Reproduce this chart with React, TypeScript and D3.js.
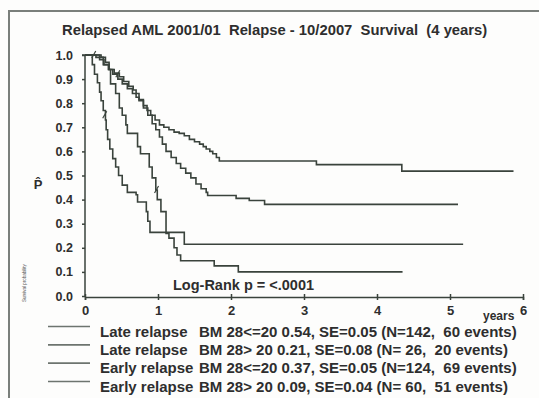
import React, { useEffect, useRef } from 'react';
import * as d3 from 'd3';

// step points: [years, survival probability]
const lateLow: [number, number][] = [
  [0, 1.0], [0.15, 0.99], [0.25, 0.96], [0.32, 0.94], [0.4, 0.925], [0.47, 0.91], [0.53, 0.89],
  [0.6, 0.87], [0.66, 0.855], [0.7, 0.84], [0.74, 0.815], [0.8, 0.79], [0.85, 0.77], [0.9, 0.75],
  [0.96, 0.73], [1.02, 0.71], [1.08, 0.7], [1.15, 0.69], [1.22, 0.68], [1.29, 0.675], [1.36, 0.665],
  [1.43, 0.65], [1.5, 0.64], [1.57, 0.63], [1.62, 0.62], [1.66, 0.61], [1.71, 0.6], [1.75, 0.59],
  [1.8, 0.575], [1.84, 0.56], [3.17, 0.545], [4.34, 0.518], [5.87, 0.518],
];
const earlyLow: [number, number][] = [
  [0, 1.0], [0.22, 0.99], [0.28, 0.97], [0.33, 0.94], [0.38, 0.92], [0.45, 0.9], [0.51, 0.88],
  [0.58, 0.86], [0.65, 0.84], [0.7, 0.825], [0.74, 0.81], [0.8, 0.78], [0.86, 0.75], [0.92, 0.715],
  [0.97, 0.69], [1.02, 0.66], [1.06, 0.63], [1.11, 0.6], [1.18, 0.575], [1.25, 0.55], [1.31, 0.53],
  [1.38, 0.51], [1.45, 0.49], [1.52, 0.465], [1.59, 0.445], [1.66, 0.43], [1.68, 0.417],
  [2.07, 0.405], [2.25, 0.396], [2.46, 0.38], [5.11, 0.38],
];
const lateHigh: [number, number][] = [
  [0, 1.0], [0.1, 0.96], [0.13, 0.92], [0.17, 0.885], [0.2, 0.846], [0.22, 0.81], [0.25, 0.77],
  [0.28, 0.73], [0.29, 0.69], [0.31, 0.65], [0.34, 0.61], [0.38, 0.57], [0.42, 0.535], [0.46, 0.5],
  [0.51, 0.46], [0.58, 0.43], [0.7, 0.42], [0.72, 0.39], [0.84, 0.35], [0.86, 0.31], [0.89, 0.264],
  [1.36, 0.215], [5.18, 0.215],
];
const earlyHigh: [number, number][] = [
  [0, 1.0], [0.2, 0.98], [0.26, 0.96], [0.33, 0.94], [0.35, 0.88], [0.42, 0.84], [0.47, 0.78],
  [0.51, 0.75], [0.56, 0.71], [0.58, 0.675], [0.72, 0.62], [0.76, 0.59], [0.88, 0.535], [0.92, 0.49],
  [0.97, 0.44], [0.99, 0.4], [1.04, 0.35], [1.11, 0.26], [1.15, 0.24], [1.22, 0.2], [1.26, 0.17],
  [1.31, 0.146], [1.77, 0.125], [2.1, 0.1], [4.35, 0.1],
];
const series = [lateLow, lateHigh, earlyLow, earlyHigh];

// censor marks [years, p]
const censored: [number, number][] = [[0.12, 1.0], [0.27, 0.75], [0.98, 0.44], [0.45, 0.92]];

const xTicks = [0, 1, 2, 3, 4, 5, 6];
const yTicks = [0, 0.1, 0.2, 0.3, 0.4, 0.5, 0.6, 0.7, 0.8, 0.9, 1.0];

const groupLabels = ['Late relapse', 'Late relapse', 'Early relapse', 'Early relapse'];
const statLabels = [
  'BM 28<=20 0.54, SE=0.05 (N=142,  60 events)',
  'BM 28> 20 0.21, SE=0.08 (N= 26,  20 events)',
  'BM 28<=20 0.37, SE=0.05 (N=124,  69 events)',
  'BM 28> 20 0.09, SE=0.04 (N= 60,  51 events)',
];

const title = 'Relapsed AML 2001/01  Relapse - 10/2007  Survival  (4 years)';
const ink = '#3a433c';
const txt = '#2e2e2e';
const font = '"Liberation Sans", Arial, sans-serif';

const App = () => {
  const ref = useRef<SVGSVGElement>(null);

  useEffect(() => {
    const svg = d3.select(ref.current);
    svg.selectAll('*').remove();

    svg.append('rect').attr('width', 539).attr('height', 398).attr('fill', '#fdfdfc');

    // scan frame
    svg.append('path')
      .attr('d', 'M9,398 V11 H539')
      .attr('fill', 'none')
      .attr('stroke', '#7a7f7b')
      .attr('stroke-width', 2);

    const x = d3.scaleLinear().domain([0, 6]).range([85, 523]);
    const y = d3.scaleLinear().domain([0, 1]).range([296, 55]);

    svg.append('text')
      .attr('x', 62).attr('y', 35)
      .attr('font-family', font).attr('font-weight', 'bold').attr('font-size', 14.8)
      .attr('fill', txt).style('white-space', 'pre')
      .text(title);

    // y axis
    const yAxis = svg.append('g')
      .attr('transform', 'translate(85,0)')
      .call(d3.axisLeft(y).tickValues(yTicks).tickFormat(d3.format('.1f')).tickSize(3).tickPadding(9));
    yAxis.selectAll('text')
      .attr('font-family', font).attr('font-weight', 'bold').attr('font-size', 12.5).attr('fill', txt);
    yAxis.select('.domain').attr('d', `M-3,${y(1)}H0V${y(0) + 1}`);

    // x axis
    const xAxis = svg.append('g')
      .attr('transform', `translate(0,${y(0) + 1})`)
      .call(d3.axisBottom(x).tickValues(xTicks).tickFormat(d3.format('d')).tickSize(3).tickPadding(6));
    xAxis.selectAll('text')
      .attr('font-family', font).attr('font-weight', 'bold').attr('font-size', 13).attr('fill', txt);
    xAxis.selectAll('.tick line').attr('y1', -3);

    svg.selectAll('.domain, .tick line').attr('stroke', ink).attr('stroke-width', 1.5);

    // y label P-hat
    svg.append('text')
      .attr('x', 38).attr('y', 189).attr('text-anchor', 'middle')
      .attr('font-family', font).attr('font-weight', 'bold').attr('font-size', 13).attr('fill', txt)
      .text('P\u0302');

    svg.append('text')
      .attr('transform', 'translate(26,302) rotate(-90)')
      .attr('font-family', font).attr('font-size', 4.5).attr('fill', '#555')
      .text('Survival probability');

    const line = d3.line<[number, number]>()
      .x(d => x(d[0]))
      .y(d => y(d[1]))
      .curve(d3.curveStepAfter);

    svg.selectAll('.km')
      .data(series)
      .enter().append('path')
      .attr('class', 'km')
      .attr('d', d => line(d))
      .attr('fill', 'none')
      .attr('stroke', ink)
      .attr('stroke-width', 1.6);

    svg.selectAll('.cens')
      .data(censored)
      .enter().append('line')
      .attr('class', 'cens')
      .attr('x1', d => x(d[0]) - 2).attr('x2', d => x(d[0]) + 2)
      .attr('y1', d => y(d[1]) + 3).attr('y2', d => y(d[1]) - 4)
      .attr('stroke', ink).attr('stroke-width', 1.2);

    svg.append('text')
      .attr('x', 173).attr('y', 290)
      .attr('font-family', font).attr('font-weight', 'bold').attr('font-size', 14.5).attr('fill', txt)
      .text('Log-Rank p = <.0001');

    // legend
    const rowY = d3.scaleLinear().domain([0, 3]).range([336.5, 391.5]);
    const leg = svg.selectAll('.leg')
      .data(statLabels)
      .enter().append('g')
      .attr('class', 'leg')
      .attr('transform', (d, i) => `translate(0,${rowY(i)})`);
    leg.append('line')
      .attr('x1', 48).attr('x2', 90).attr('y1', -10).attr('y2', -10)
      .attr('stroke', '#6d746f').attr('stroke-width', 1.6);
    leg.append('text')
      .attr('x', 100)
      .attr('font-family', font).attr('font-weight', 'bold').attr('font-size', 15).attr('fill', txt)
      .text((d, i) => groupLabels[i]);
    leg.append('text')
      .attr('x', 199)
      .attr('font-family', font).attr('font-weight', 'bold').attr('font-size', 15).attr('fill', txt)
      .style('white-space', 'pre')
      .text(d => d);

    svg.append('text')
      .attr('x', 483).attr('y', 320)
      .attr('font-family', font).attr('font-weight', 'bold').attr('font-size', 12).attr('fill', txt)
      .text('years');
  }, []);

  return <svg ref={ref} width={539} height={398} style={{ position: 'absolute', left: 0, top: 0 }} />;
};

export default App;
